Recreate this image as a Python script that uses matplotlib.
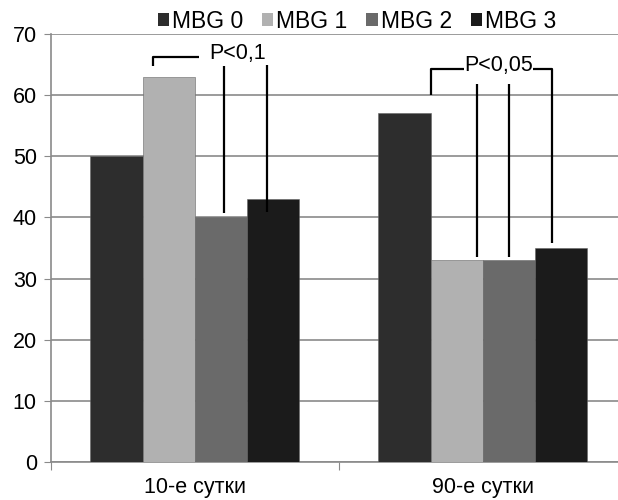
import numpy as np
import matplotlib
matplotlib.use("Agg")
import matplotlib.pyplot as plt
from matplotlib.patches import Patch

plt.rcParams['font.family'] = ['Liberation Sans', 'DejaVu Sans']

# data
categories = ["10-е сутки", "90-е сутки"]
series = ["MBG 0", "MBG 1", "MBG 2", "MBG 3"]
values = [
    [50, 57],   # MBG 0
    [63, 33],   # MBG 1
    [40, 33],   # MBG 2
    [43, 35],   # MBG 3
]
colors = ["#2d2d2d", "#b1b1b1", "#6a6a6a", "#1b1b1b"]
yticks = [0, 10, 20, 30, 40, 50, 60, 70]

fig = plt.figure(figsize=(6.18, 5.0), dpi=100)
ax = fig.add_axes([0.082, 0.076, 0.932, 0.856])

x = np.arange(len(categories))
w = 0.181
for i, (name, vals) in enumerate(zip(series, values)):
    ax.bar(x + (i - 1.5) * w, vals, width=w, color=colors[i], label=name,
           edgecolor="#666666", linewidth=0.4, zorder=3)

ax.set_xlim(-0.5, 1.5)
ax.set_ylim(0, 70)
ax.set_yticks(yticks)
ax.yaxis.grid(True, color="#8a8a8a", linewidth=1.2, zorder=0)
ax.tick_params(axis='y', length=5, color="#8a8a8a", labelsize=15.5, pad=5)

# category boundaries as ticks, labels on minor ticks
ax.set_xticks([-0.5, 0.5, 1.5])
ax.set_xticklabels([])
ax.tick_params(axis='x', which='major', length=6, color="#8a8a8a")
ax.set_xticks(x, minor=True)
ax.set_xticklabels(categories, minor=True)
ax.tick_params(axis='x', which='minor', length=0, labelsize=15.5, pad=11)

for s in ["top", "right"]:
    ax.spines[s].set_visible(False)
for s in ["left", "bottom"]:
    ax.spines[s].set_color("#8a8a8a")
    ax.spines[s].set_linewidth(1.2)

# significance brackets
lk = dict(color="black", linewidth=1.6, zorder=5, solid_capstyle='butt')
# 10-е сутки
ax.plot([-0.146, -0.146, 0.016], [64.8, 66.2, 66.2], **lk)
ax.plot([0.101, 0.101], [64.8, 40.7], **lk)
ax.plot([0.25, 0.25], [65.0, 40.9], **lk)
ax.text(0.148, 66.8, "P<0,1", ha="center", va="center", fontsize=15.5, zorder=6)
# 90-е сутки
ax.plot([0.819, 0.819, 1.241, 1.241], [60.0, 64.3, 64.3, 35.8], **lk)
ax.plot([0.982, 0.982], [61.8, 33.6], **lk)
ax.plot([1.091, 1.091], [61.8, 33.6], **lk)
ax.text(1.054, 64.8, "P<0,05", ha="center", va="center", fontsize=15.5, zorder=6,
        bbox=dict(facecolor="white", edgecolor="none", pad=0))

handles = [Patch(facecolor=c, edgecolor="none") for c in colors]
fig.legend(handles, series, loc="center", bbox_to_anchor=(357 / 618, 1 - 21.5 / 500),
           ncol=4, frameon=False, fontsize=16.5, handlelength=0.5, handleheight=0.5,
           handletextpad=0.13, columnspacing=0.82, borderpad=0)

fig.savefig("out.png", dpi=100)
